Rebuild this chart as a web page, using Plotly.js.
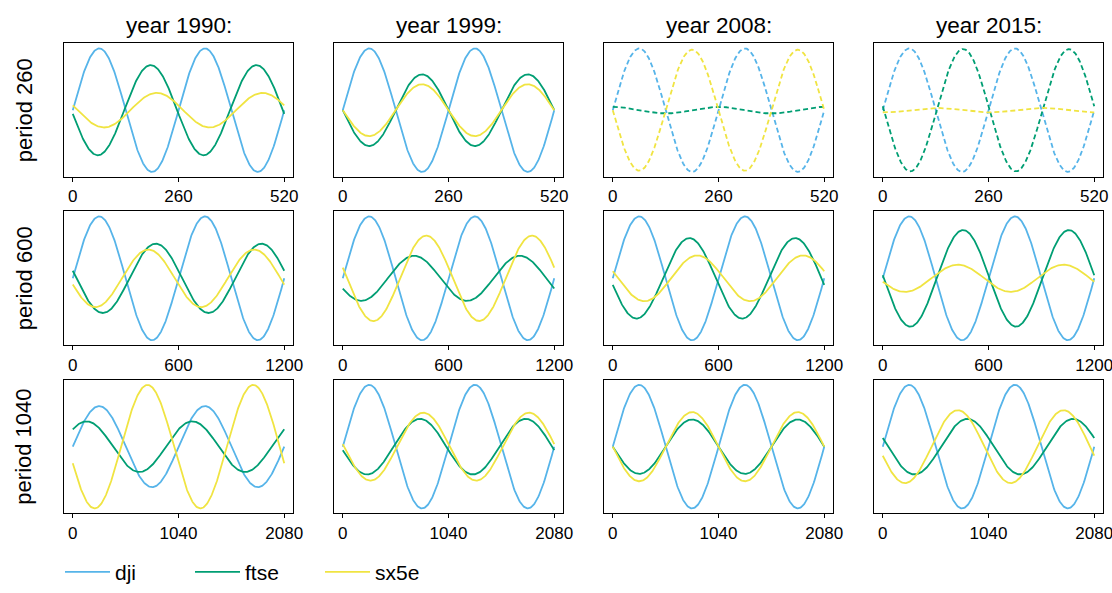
<!DOCTYPE html>
<html>
<head>
<meta charset="utf-8">
<script src="https://cdn.plot.ly/plotly-3.0.1.min.js"></script>
<style>html,body{margin:0;padding:0;background:#fff;}#chart{width:1112px;height:593px;}</style>
</head>
<body>
<div id="chart"></div>
<script>
// Column / row labels
const years = [1990, 1999, 2008, 2015];
const periods = [260, 600, 1040];
const seriesNames = ["dji", "ftse", "sx5e"];
const seriesColors = ["#56B4E9", "#009E73", "#F0E442"];

// Amplitude (relative) and peak position (fraction of a period)
// rows = periods (260, 600, 1040), cols = years (1990, 1999, 2008, 2015)
const djiAmp   = [[1, 1, 1, 1], [1, 1, 1, 1], [0.656, 1, 1, 1]];
const djiPeak  = [[0.25, 0.25, 0.25, 0.25], [0.25, 0.25, 0.25, 0.25], [0.25, 0.25, 0.25, 0.25]];
const ftseAmp  = [[0.73, 0.58, 0.053, 0.99], [0.56, 0.364, 0.65, 0.78], [0.41, 0.45, 0.44, 0.45]];
const ftsePeak = [[0.737, 0.75, 0.0, 0.76], [0.785, 0.675, 0.724, 0.76], [0.13, 0.73, 0.75, 0.80]];
const sx5eAmp  = [[0.28, 0.42, 0.98, 0.037], [0.465, 0.69, 0.37, 0.22], [1, 0.55, 0.56, 0.59]];
const sx5ePeak = [[0.795, 0.75, 0.75, 0.5], [0.715, 0.79, 0.80, 0.71], [0.707, 0.762, 0.75, 0.71]];
const dashedPanel = [[false, false, true, true], [false, false, false, false], [false, false, false, false]];

const amps = [djiAmp, ftseAmp, sx5eAmp];
const peaks = [djiPeak, ftsePeak, sx5ePeak];

// Layout geometry (pixels)
const W = 1112, H = 593;
const colPx = [[64.3, 292.7], [334.3, 562.7], [604.3, 832.7], [874.3, 1102.7]];
const rowPx = [[44, 179], [214, 349.3], [384.5, 519.5]];
const FONT = "Liberation Sans, Arial, Helvetica, sans-serif";

const traces = [];
const layout = {
  width: W, height: H,
  margin: {l: 0, r: 0, t: 0, b: 0},
  paper_bgcolor: "#fff", plot_bgcolor: "#fff",
  showlegend: true,
  legend: {
    orientation: "h", x: 60 / W, xanchor: "left", y: 1 - 579 / H, yanchor: "middle",
    font: {family: FONT, size: 21, color: "#000"}, entrywidth: 70, itemwidth: 45,
    bgcolor: "rgba(0,0,0,0)"
  },
  annotations: [],
  font: {family: FONT, color: "#000"}
};

const NPTS = 400;
let idx = 0;
for (let r = 0; r < periods.length; r++) {
  const P = periods[r];
  for (let c = 0; c < years.length; c++) {
    idx++;
    const xa = idx === 1 ? "x" : "x" + idx;
    const ya = idx === 1 ? "y" : "y" + idx;
    let ymin = Infinity, ymax = -Infinity;
    for (let s = 0; s < 3; s++) {
      const A = amps[s][r][c], tp = peaks[s][r][c];
      const xs = [], ys = [];
      for (let i = 0; i <= NPTS; i++) {
        const x = 2 * P * i / NPTS;
        const y = A * Math.cos(2 * Math.PI * (x / P - tp));
        xs.push(x); ys.push(y);
        if (y < ymin) ymin = y;
        if (y > ymax) ymax = y;
      }
      traces.push({
        type: "scatter", mode: "lines", x: xs, y: ys, xaxis: xa, yaxis: ya,
        name: seriesNames[s], legendgroup: seriesNames[s],
        showlegend: idx === 1,
        line: {color: seriesColors[s], width: 1.8, dash: dashedPanel[r][c] ? "5px,3px" : "solid"},
        hoverinfo: "skip"
      });
    }
    const span = ymax - ymin;
    const xKey = idx === 1 ? "xaxis" : "xaxis" + idx;
    const yKey = idx === 1 ? "yaxis" : "yaxis" + idx;
    layout[xKey] = {
      domain: [colPx[c][0] / W, colPx[c][1] / W],
      anchor: ya,
      range: [-0.04 * 2 * P, 2 * P * 1.04],
      tickvals: [0, P, 2 * P], ticktext: ["0", String(P), String(2 * P)],
      ticks: "outside", ticklen: 4, tickwidth: 1, tickcolor: "#000",
      tickfont: {family: FONT, size: 17, color: "#000"},
      ticklabeloverflow: "allow",
      showline: true, mirror: true, linecolor: "#000", linewidth: 1,
      showgrid: false, zeroline: false, fixedrange: true
    };
    layout[yKey] = {
      domain: [1 - rowPx[r][1] / H, 1 - rowPx[r][0] / H],
      anchor: xa,
      range: [ymin - 0.04 * span, ymax + 0.04 * span],
      showticklabels: false, ticks: "",
      showline: true, mirror: true, linecolor: "#000", linewidth: 1,
      showgrid: false, zeroline: false, fixedrange: true
    };
  }
}

// Column titles
for (let c = 0; c < years.length; c++) {
  layout.annotations.push({
    text: "year " + years[c] + ":", xref: "paper", yref: "paper",
    x: (colPx[c][0] + colPx[c][1]) / 2 / W, xanchor: "center",
    y: 1 - 26 / H, yanchor: "middle", showarrow: false,
    font: {family: FONT, size: 22.5, color: "#000"}
  });
}
// Row titles
for (let r = 0; r < periods.length; r++) {
  layout.annotations.push({
    text: "period " + periods[r], xref: "paper", yref: "paper",
    x: 24 / W, xanchor: "center",
    y: 1 - (rowPx[r][0] + rowPx[r][1]) / 2 / H, yanchor: "middle",
    textangle: -90, showarrow: false,
    font: {family: FONT, size: 22, color: "#000"}
  });
}

Plotly.newPlot("chart", traces, layout, {staticPlot: true, displayModeBar: false});
</script>
</body>
</html>
